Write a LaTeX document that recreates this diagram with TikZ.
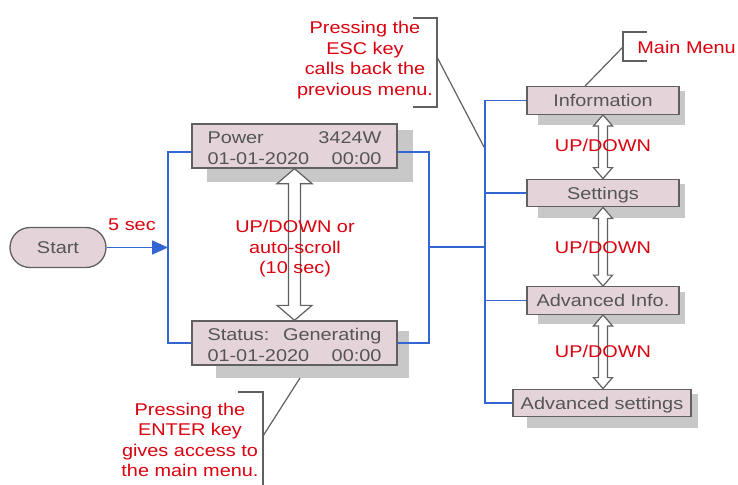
\documentclass[tikz,border=0pt]{standalone}
\usepackage{fontspec}
\setmainfont{Liberation Sans}[FakeStretch=1.17]
\usetikzlibrary{calc,arrows.meta}
\definecolor{boxfill}{RGB}{228,212,218}
\definecolor{boxdraw}{RGB}{96,96,96}
\definecolor{shadowc}{RGB}{200,200,200}
\definecolor{txtgray}{RGB}{85,85,85}
\definecolor{redtxt}{RGB}{218,0,14}
\definecolor{wirec}{RGB}{51,102,210}
\newcommand\dblarrow[5]{%
  \draw[dblarr] let \p1=(#1), \p2=(#2) in
   (\x1,\y1) -- (\x1+#3,\y1-#5) -- (\x1+#4,\y1-#5) -- (\x1+#4,\y2+#5) -- (\x1+#3,\y2+#5)
   -- (\x1,\y2) -- (\x1-#3,\y2+#5) -- (\x1-#4,\y2+#5) -- (\x1-#4,\y1-#5) -- (\x1-#3,\y1-#5) -- cycle;}
\begin{document}
\begin{tikzpicture}[x=1pt,y=-1pt,
  box/.style={draw=boxdraw,fill=boxfill,line width=1.3pt,text=txtgray,font=\fontsize{17}{21}\selectfont,inner sep=0pt},
  menubox/.style={box,minimum width=152pt,minimum height=27.5pt,text height=12.2pt,text depth=0pt},
  lbl/.style={text=redtxt,font=\fontsize{17}{20.5}\selectfont,align=center,inner sep=0pt},
  wire/.style={draw=wirec,line width=1.5pt},
  shadowbox/.style={fill=shadowc},
  note/.style={draw=boxdraw,line width=1.2pt},
  dblarr/.style={draw=boxdraw,fill=white,line width=1.2pt,line join=miter}]
\useasboundingbox (0,0) rectangle (738,484);
% shadows
\fill[shadowbox] (207,130) rectangle (413,182);
\fill[shadowbox] (216,331) rectangle (409,378);
\fill[shadowbox] (538,91) rectangle (685,125);
\fill[shadowbox] (538,184) rectangle (685,218);
\fill[shadowbox] (538,292) rectangle (685,324);
\fill[shadowbox] (527,394) rectangle (698,428);
% boxes
\node[box,rounded corners=20pt,minimum width=96pt,minimum height=40pt] (start) at (58,247.5) {Start};
\node[box,minimum width=205pt,minimum height=44pt,text width=174pt,align=left] (power) at (294.5,146)
  {\rule{0pt}{17pt}Power\hfill 3424W\\01-01-2020\hfill 00:00};
\node[box,minimum width=205pt,minimum height=44pt,text width=174pt,align=left] (status) at (294.5,343)
  {\rule{0pt}{16pt}Status:\hfill Generating\\01-01-2020\hfill 00:00};
\node[menubox] (info) at (603,100.5) {Information};
\node[menubox] (settings) at (603,193) {Settings};
\node[menubox] (advinfo) at (603,300.5) {Advanced Info.};
\node[menubox,minimum width=178pt] (advset) at (602,403) {Advanced settings};
% wires
\coordinate (lbus) at (168,247.5);
\coordinate (rjoin) at (429,247);
\coordinate (rbus) at (485,247);
\draw[wire,-{Triangle[length=16pt,width=14pt]}] (start.east) -- (lbus);
\draw[wire] ($(power.west)+(0,6)$) -| (lbus) |- (status.west);
\draw[wire] ($(power.east)+(0,6)$) -| (rjoin) |- (status.east);
\draw[wire] (rjoin) -- (rbus);
\draw[wire] (info.west) -| (rbus) |- (advset.west);
\draw[wire] (settings.west) -- (settings.west -| rbus);
\draw[wire] (advinfo.west) -- (advinfo.west -| rbus);
% double arrows
\dblarrow{power.south}{status.north}{17.5pt}{6pt}{15pt}
\dblarrow{info.south}{settings.north}{9.5pt}{4.5pt}{11pt}
\dblarrow{settings.south}{advinfo.north}{9.5pt}{4.5pt}{11pt}
\dblarrow{advinfo.south}{advset.north}{9.5pt}{4.5pt}{11pt}
% labels
\node[lbl] (fivesec) at (132,225) {5 sec};
\node[lbl] (scroll) at (295,249) {UP/DOWN or\\auto-scroll\\(10 sec)};
\node[lbl] (ud1) at (603,145) {UP/DOWN};
\node[lbl] (ud2) at (603,247) {UP/DOWN};
\node[lbl] (ud3) at (603,351) {UP/DOWN};
\node[lbl] (esc) at (365,60) {Pressing the\\ESC key\\calls back the\\previous menu.};
\node[lbl,anchor=east] (mainmenu) at (736,47) {Main Menu};
\node[lbl] (enter) at (190,440) {Pressing the\\ENTER key\\gives access to\\the main menu.};
% notes
\coordinate (esctip) at (484,147);
\draw[note] (413,18) -- (437,18) -- (437,107) -- (413,107);
\draw[note] (437,57) -- (esctip);
\draw[note] (647,32) -- (623,32) -- (623,61) -- (647,61);
\draw[note] (623,47) -- ($(info.north)+(-18,0)$);
\draw[note] (238,392) -- (263,392) -- (263,486);
\draw[note] (263,436) -- (300,378);
\end{tikzpicture}
\end{document}
